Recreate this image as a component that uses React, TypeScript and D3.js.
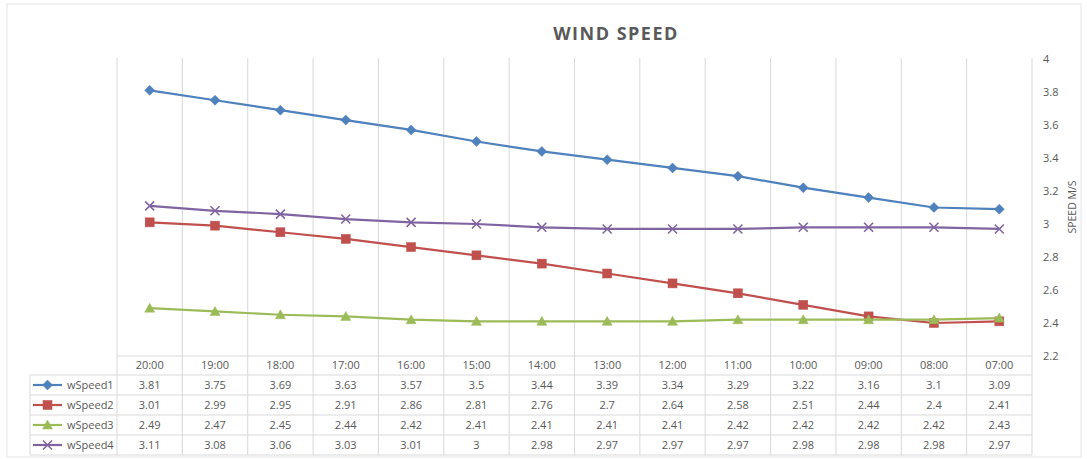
import React from "react";
import * as d3 from "d3";

const categories = ["20:00","19:00","18:00","17:00","16:00","15:00","14:00","13:00","12:00","11:00","10:00","09:00","08:00","07:00"];
const wSpeed1 = [3.81,3.75,3.69,3.63,3.57,3.5,3.44,3.39,3.34,3.29,3.22,3.16,3.1,3.09];
const wSpeed2 = [3.01,2.99,2.95,2.91,2.86,2.81,2.76,2.7,2.64,2.58,2.51,2.44,2.4,2.41];
const wSpeed3 = [2.49,2.47,2.45,2.44,2.42,2.41,2.41,2.41,2.41,2.42,2.42,2.42,2.42,2.43];
const wSpeed4 = [3.11,3.08,3.06,3.03,3.01,3,2.98,2.97,2.97,2.97,2.98,2.98,2.98,2.97];
const seriesNames = ["wSpeed1","wSpeed2","wSpeed3","wSpeed4"];
const yTicks = [2.2,2.4,2.6,2.8,3,3.2,3.4,3.6,3.8,4];

const seriesValues = [wSpeed1, wSpeed2, wSpeed3, wSpeed4];
const colors = ["#4F81BD", "#C0504D", "#9BBB59", "#8064A2"];
const shapes = ["diamond", "square", "triangle", "x"];

const W = 1087, H = 459;
const left = 117, right = 1032, top = 58, bottom = 356;
const tableLeft = 30;
const headerBottom = 375;
const rowH = 20;
const font = "'Open Sans', 'Liberation Sans', sans-serif";
const textColor = "#595959";
const gridColor = "#D9D9D9";

function Marker({ shape, x, y, color }: { shape: string; x: number; y: number; color: string }) {
  if (shape === "diamond") {
    const s = 5;
    return <path d={`M${x},${y - s}L${x + s},${y}L${x},${y + s}L${x - s},${y}Z`} fill={color} stroke={color} strokeWidth={0.5} />;
  }
  if (shape === "square") {
    const s = 4.5;
    return <rect x={x - s} y={y - s} width={2 * s} height={2 * s} fill={color} stroke={color} strokeWidth={0.5} />;
  }
  if (shape === "triangle") {
    const s = 5;
    return <path d={`M${x},${y - s}L${x + s},${y + s * 0.8}L${x - s},${y + s * 0.8}Z`} fill={color} stroke={color} strokeWidth={0.5} />;
  }
  const s = 4.5;
  return (
    <path d={`M${x - s},${y - s}L${x + s},${y + s}M${x - s},${y + s}L${x + s},${y - s}`} stroke={color} strokeWidth={1.6} fill="none" />
  );
}

export default function App() {
  const x = d3.scaleBand<string>().domain(categories).range([left, right]).padding(0);
  const y = d3.scaleLinear().domain([2.2, 4]).range([bottom, top + 1]);
  const cx = (c: string) => (x(c) as number) + x.bandwidth() / 2;
  const line = d3.line<number>().x((_, i) => cx(categories[i])).y((d) => y(d));
  const tableBottom = headerBottom + rowH * seriesNames.length;

  return (
    <svg width={W} height={H} style={{ position: "absolute", left: 0, top: 0, background: "#fff" }} fontFamily={font}>
      <rect x={7} y={4} width={1074} height={453} fill="#fff" stroke="#E6E6E6" strokeWidth={1} />
      <text x={616} y={40} textAnchor="middle" fontSize={18} fontWeight="bold" fill={textColor} letterSpacing={1.5}>WIND SPEED</text>

      {/* vertical category grid lines through plot and table */}
      {categories.map((c) => (
        <line key={c} x1={x(c)} x2={x(c)} y1={top} y2={tableBottom} stroke={gridColor} strokeWidth={1} />
      ))}
      <line x1={right} x2={right} y1={top} y2={tableBottom} stroke={gridColor} strokeWidth={1} />
      {/* table horizontal lines */}
      <line x1={left} x2={right} y1={bottom} y2={bottom} stroke={gridColor} />
      {d3.range(seriesNames.length + 1).map((i) => (
        <line key={i} x1={tableLeft} x2={right} y1={headerBottom + i * rowH} y2={headerBottom + i * rowH} stroke={gridColor} />
      ))}
      <line x1={tableLeft} x2={tableLeft} y1={headerBottom} y2={tableBottom} stroke={gridColor} />

      {/* y axis ticks on right */}
      {yTicks.map((t) => (
        <text key={t} x={1043} y={y(t)} dy="0.35em" fontSize={11} fill={textColor}>{String(t)}</text>
      ))}
      <text transform={`translate(1076,${(top + bottom) / 2}) rotate(-90)`} textAnchor="middle" fontSize={10.5} fill={textColor}>SPEED M/S</text>

      {/* series lines */}
      {seriesValues.map((vals, si) => (
        <g key={si}>
          <path d={line(vals) || ""} fill="none" stroke={colors[si]} strokeWidth={2.2} />
          {vals.map((v, i) => (
            <Marker key={i} shape={shapes[si]} x={cx(categories[i])} y={y(v)} color={colors[si]} />
          ))}
        </g>
      ))}

      {/* table header */}
      {categories.map((c) => (
        <text key={c} x={cx(c)} y={(bottom + headerBottom) / 2} dy="0.35em" textAnchor="middle" fontSize={11} fill={textColor}>{c}</text>
      ))}
      {/* table rows */}
      {seriesNames.map((name, si) => {
        const ry = headerBottom + si * rowH + rowH / 2;
        return (
          <g key={name}>
            <line x1={33} x2={62} y1={ry} y2={ry} stroke={colors[si]} strokeWidth={2.2} />
            <Marker shape={shapes[si]} x={47.5} y={ry} color={colors[si]} />
            <text x={67} y={ry} dy="0.35em" fontSize={11} fill={textColor}>{name}</text>
            {seriesValues[si].map((v, i) => (
              <text key={i} x={cx(categories[i])} y={ry} dy="0.35em" textAnchor="middle" fontSize={11} fill={textColor}>{String(v)}</text>
            ))}
          </g>
        );
      })}
    </svg>
  );
}
